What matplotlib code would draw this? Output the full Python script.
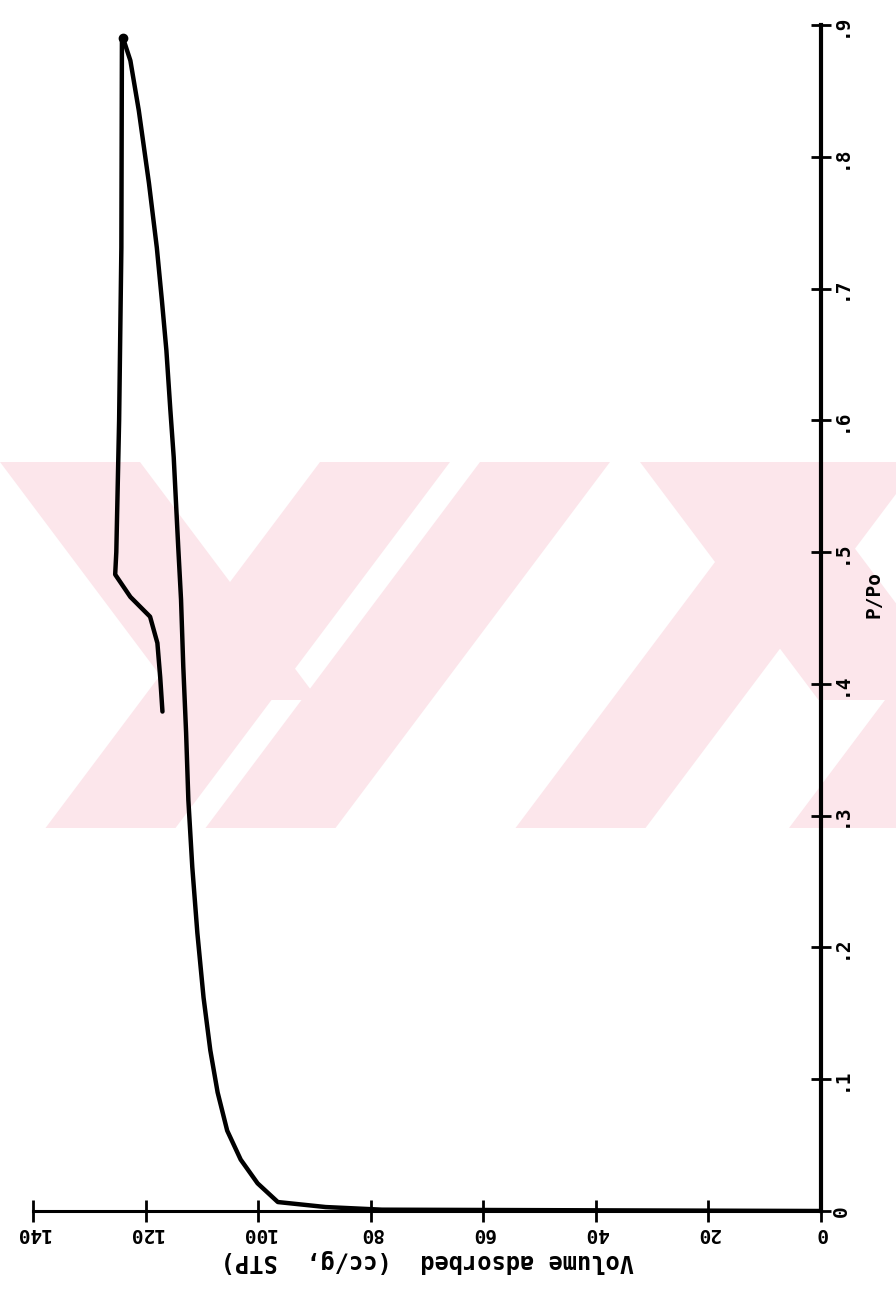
import numpy as np
import matplotlib.pyplot as plt
from matplotlib.patches import Polygon

# Nitrogen isotherm: relative pressure vs volume adsorbed
ads_p = [0, 0.001, 0.003, 0.0068, 0.021, 0.039, 0.061, 0.090, 0.122, 0.162,
         0.211, 0.261, 0.312, 0.363, 0.413, 0.464, 0.504, 0.572, 0.608,
         0.653, 0.691, 0.731, 0.780, 0.835, 0.873, 0.890]
ads_v = [0, 78, 88, 96.5, 100.1, 103.1, 105.5, 107.2, 108.5, 109.7,
         110.8, 111.7, 112.4, 112.8, 113.3, 113.7, 114.2, 115.0, 115.6,
         116.3, 117.1, 118.0, 119.4, 121.2, 122.7, 124.0]

des_p = [0.890, 0.731, 0.600, 0.500, 0.483, 0.466, 0.451, 0.431, 0.405, 0.379]
des_v = [124.2, 124.3, 124.7, 125.2, 125.4, 122.7, 119.2, 117.9, 117.4, 117.0]

vol_ticks = [0, 20, 40, 60, 80, 100, 120, 140]
vol_labels = ["0", "20", "40", "60", "80", "100", "120", "140"]
p_ticks = [0, 0.1, 0.2, 0.3, 0.4, 0.5, 0.6, 0.7, 0.8, 0.9]
p_labels = ["0", ".1", ".2", ".3", ".4", ".5", ".6", ".7", ".8", ".9"]

W, H = 896, 1291
fig = plt.figure(figsize=(W / 100, H / 100), dpi=100)

# pale stamp in the background (pixel coordinates)
bg = fig.add_axes([0, 0, 1, 1])
bg.set_xlim(0, W)
bg.set_ylim(H, 0)
bg.axis("off")
pink = "#fce6eb"
y0, y1 = 462, 828
k = 0.75
bands = [
    # "\" bands
    [(0, y0), (140, y0), (140 + k * 238, 700), (k * 238, 700)],
    [(640, y0), (790, y0), (790 + k * 238, 700), (640 + k * 238, 700)],
    # "/" bands
    [(320, y0), (450, y0), (450 - k * (y1 - y0), y1), (320 - k * (y1 - y0), y1)],
    [(480, y0), (610, y0), (610 - k * (y1 - y0), y1), (480 - k * (y1 - y0), y1)],
    [(790, y0), (920, y0), (920 - k * (y1 - y0), y1), (790 - k * (y1 - y0), y1)],
    [(960, 600), (1090, 600), (1090 - k * (y1 - 600), y1), (960 - k * (y1 - 600), y1)],
]
for b in bands:
    pts = np.array(b, dtype=float)
    bg.add_patch(Polygon(pts, closed=True, color=pink, lw=0))
bg.add_patch(plt.Rectangle((0, y1), W, H - y1, color="white", lw=0))

# main plot
left, right = 33 / W, 821 / W
bottom, top = (H - 1211) / H, (H - 25) / H
ax = fig.add_axes([left, bottom, right - left, top - bottom])
ax.patch.set_alpha(0)

ax.plot(ads_v, ads_p, color="black", lw=3.2, solid_capstyle="round", solid_joinstyle="round")
ax.plot(des_v, des_p, color="black", lw=3.2, solid_capstyle="round", solid_joinstyle="round")
ax.plot([ads_v[-1]], [ads_p[-1]], "o", color="black", ms=6)

ax.set_xlim(140, 0)
ax.set_ylim(0, 0.9)
ax.spines["top"].set_visible(False)
ax.spines["left"].set_visible(False)
ax.spines["bottom"].set_linewidth(2.2)
ax.spines["right"].set_linewidth(3)

font = dict(family="DejaVu Sans Mono", weight="bold", size=14)

ax.set_xticks(vol_ticks)
ax.set_xticklabels(vol_labels, rotation=180, **font)
ax.tick_params(axis="x", direction="inout", length=16, width=2, pad=1)

ax.yaxis.tick_right()
ax.set_yticks(p_ticks)
ax.set_yticklabels(p_labels, rotation=90, va="center", **font)
ax.tick_params(axis="y", direction="inout", length=14, width=2, pad=1)

ax.set_xlabel("Volume adsorbed  (cc/g,  STP)", rotation=180, labelpad=5,
              family="DejaVu Sans Mono", weight="bold", size=17)
ax.yaxis.set_label_position("right")
ax.set_ylabel("P/Po", rotation=90, **font)
ax.yaxis.set_label_coords(1.055, 0.52)

fig.savefig("out.png", dpi=100)
